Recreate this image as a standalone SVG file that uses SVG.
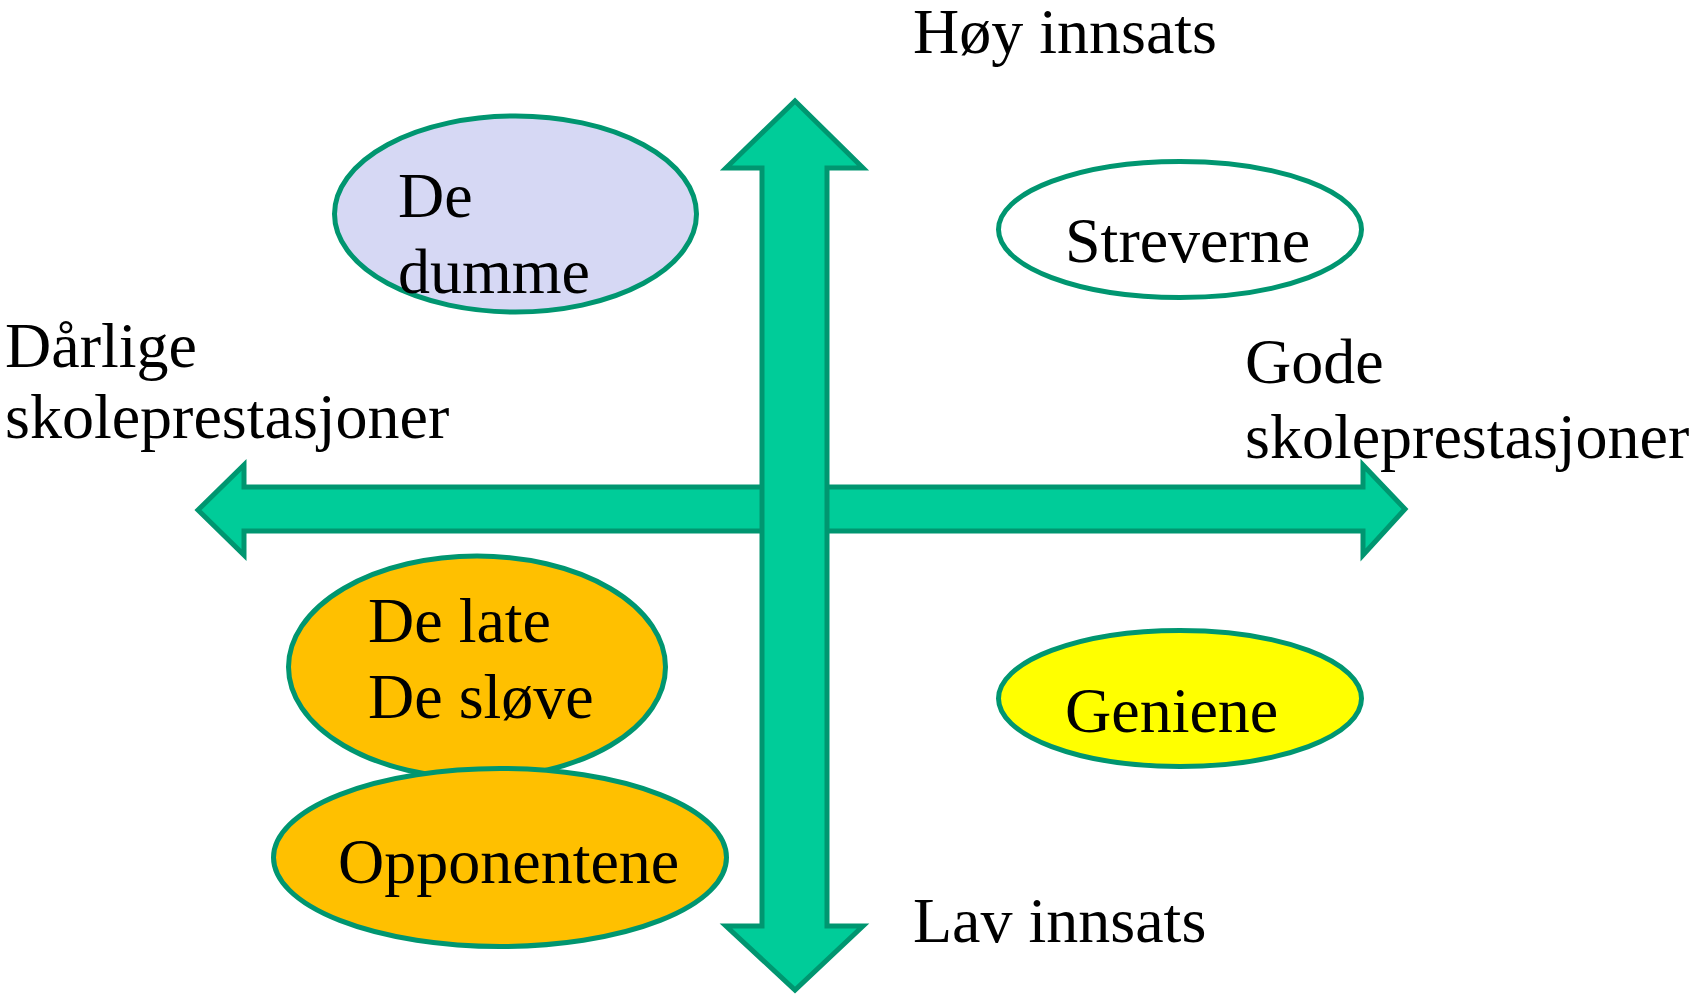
<svg xmlns="http://www.w3.org/2000/svg" width="1691" height="995" viewBox="0 0 1691 995">
<style>
.t{font-family:"Liberation Serif","Times New Roman",serif;font-size:64px;fill:#000}
.arrow{fill:#00CC99;stroke:#009670;stroke-width:5;stroke-linejoin:miter}
.node{stroke:#009670;stroke-width:5}
</style>
<rect width="1691" height="995" fill="#fff"/>
<g id="connectors">
<polygon class="arrow" points="198,510 244,465 244,487 1363,487 1363,465 1405,509 1363,555 1363,531 244,531 244,555"/>
<polygon class="arrow" points="795,101 863,168 827,168 827,926 863,926 795,990 726,926 762,926 762,168 726,168"/>
</g>
<g id="axis-labels">
<text class="t" x="913" y="53">Høy innsats</text>
<text class="t" x="913" y="942">Lav innsats</text>
<text class="t" x="5" y="367">Dårlige</text>
<text class="t" x="5" y="438">skoleprestasjoner</text>
<text class="t" x="1245" y="383">Gode</text>
<text class="t" x="1245" y="458">skoleprestasjoner</text>
</g>
<g id="de-dumme">
<ellipse class="node" cx="515.5" cy="214" rx="181" ry="98" fill="#D6D8F4"/>
<text class="t" x="398" y="217">De</text>
<text class="t" x="398" y="293">dumme</text>
</g>
<g id="streverne">
<ellipse class="node" cx="1180" cy="229.5" rx="181.5" ry="68" fill="#fff"/>
<text class="t" x="1065" y="262">Streverne</text>
</g>
<g id="de-late">
<ellipse class="node" cx="477" cy="667" rx="188.5" ry="111" fill="#FFC000"/>
<text class="t" x="368" y="642">De late</text>
<text class="t" x="368" y="718">De sløve</text>
</g>
<g id="opponentene">
<ellipse class="node" cx="500" cy="857.5" rx="226.5" ry="89" fill="#FFC000"/>
<text class="t" x="338" y="883">Opponentene</text>
</g>
<g id="geniene">
<ellipse class="node" cx="1180" cy="698.5" rx="181.5" ry="68" fill="#FFFF00"/>
<text class="t" x="1065" y="732">Geniene</text>
</g>
</svg>
